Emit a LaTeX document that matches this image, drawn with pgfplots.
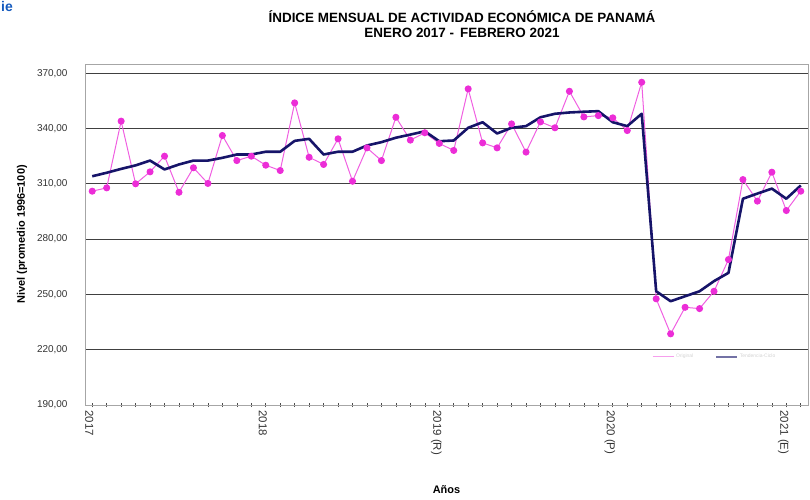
\documentclass[border=0pt]{standalone}
\usepackage{fontspec}
\setmainfont{Liberation Sans}
\usepackage{pgfplots}
\pgfplotsset{compat=1.18}
\definecolor{mag}{RGB}{236,45,215}
\definecolor{magline}{RGB}{240,95,225}
\definecolor{navy}{RGB}{22,20,105}
\definecolor{logo}{RGB}{20,90,190}
\begin{document}
\begin{tikzpicture}
\path[use as bounding box] (0,0) rectangle (810bp,500bp);
\node[anchor=north west, text=logo, inner sep=0pt] at (1bp,499bp) {\fontsize{14}{14}\selectfont\bfseries ie};
\node[font=\fontsize{13.5}{15}\selectfont\bfseries] at (462bp,483bp) {ÍNDICE MENSUAL DE ACTIVIDAD ECONÓMICA DE PANAMÁ};
\node[font=\fontsize{13.5}{15}\selectfont\bfseries] at (462bp,467bp) {ENERO 2017 -\, FEBRERO 2021};
\begin{axis}[
  at={(85bp,95bp)}, anchor=south west,
  scale only axis, width=723bp, height=341bp,
  xmin=-0.5, xmax=49.5, ymin=190, ymax=375,
  ytick={190,220,...,370},
  ymajorgrids, grid style={black!75, line width=0.7bp},
  axis line style={gray!70, line width=0.8bp},
  ytick style={draw=none},
  xtick pos=bottom,
  xtick={0,12,24,36,48},
  xticklabels={2017,2018,2019 (R),2020 (P),2021 (E)},
  minor xtick={0,...,49},
  tick align=center,
  major tick length=4bp, minor tick length=4bp,
  xtick style={gray!60!black, line width=0.6bp},
  every minor tick/.append style={gray!60!black, line width=0.6bp},
  xticklabel style={rotate=-90, anchor=west, font=\fontsize{11.5}{12}\selectfont, text=black!80, yshift=-3bp},
  yticklabel style={font=\fontsize{10}{12}\selectfont, text=black!80, xshift=-12bp,
    /pgf/number format/.cd, fixed, fixed zerofill, precision=2, use comma, 1000 sep={}},
  /pgf/number format/assume math mode=true,
  ylabel={Nivel (promedio 1996=100)},
  ylabel style={at={(axis description cs:-0.0871,0.5)}, anchor=center, font=\fontsize{11}{12}\selectfont\bfseries},
  xlabel={Años},
  xlabel style={at={(axis description cs:0.5,-0.249)}, anchor=center, font=\fontsize{11}{12}\selectfont\bfseries},
  legend style={at={(axis description cs:0.871,0.141)}, anchor=center, draw=none, fill=none,
    font=\fontsize{5}{6}\selectfont, text=gray!35, legend columns=2,
    /tikz/every even column/.append style={column sep=20bp}},
  legend image code/.code={\draw[#1] (0bp,0bp) -- (21bp,0bp);},
]
\addplot[magline, line width=1bp, mark=*, mark size=3bp, mark options={mag, fill=mag, draw=mag}, forget plot] coordinates {
(0,306.0) (1,307.8) (2,344.0) (3,310.0) (4,316.5) (5,325.0) (6,305.4) (7,318.7) (8,310.2) (9,336.2)
(10,322.6) (11,325.0) (12,320.1) (13,317.2) (14,353.9) (15,324.4) (16,320.5) (17,334.4) (18,311.4) (19,329.5)
(20,322.6) (21,346.1) (22,333.7) (23,337.7) (24,331.9) (25,328.1) (26,361.5) (27,332.2) (28,329.5) (29,342.5)
(30,327.2) (31,343.6) (32,340.4) (33,360.2) (34,346.3) (35,347.0) (36,345.8) (37,338.9) (38,365.1) (39,247.6)
(40,228.6) (41,243.0) (42,242.3) (43,251.7) (44,268.9) (45,312.3) (46,300.6) (47,316.3) (48,295.5) (49,306.0)
};
\addplot[navy, line width=2.6bp, line join=round, forget plot] coordinates {
(0,314.1) (1,316.0) (2,318.1) (3,320.0) (4,322.6) (5,317.8) (6,320.5) (7,322.6) (8,322.6) (9,324.1)
(10,325.9) (11,325.9) (12,327.4) (13,327.4) (14,333.3) (15,334.4) (16,325.9) (17,327.4) (18,327.4) (19,330.8)
(20,332.6) (21,335.0) (22,336.7) (23,338.5) (24,333.1) (25,333.5) (26,340.4) (27,343.4) (28,337.3) (29,340.4)
(30,341.3) (31,346.1) (32,348.0) (33,348.7) (34,349.1) (35,349.4) (36,343.4) (37,341.3) (38,348.0) (39,251.7)
(40,246.3) (41,249.0) (42,251.7) (43,257.2) (44,261.7) (45,301.9) (46,304.7) (47,307.4) (48,301.9) (49,309.1)
};
\addlegendimage{magline!60, line width=1bp}
\addlegendentry{Original}
\addlegendimage{navy!60, line width=1.5bp}
\addlegendentry{Tendencia-Ciclo}
\end{axis}
\end{tikzpicture}
\end{document}
